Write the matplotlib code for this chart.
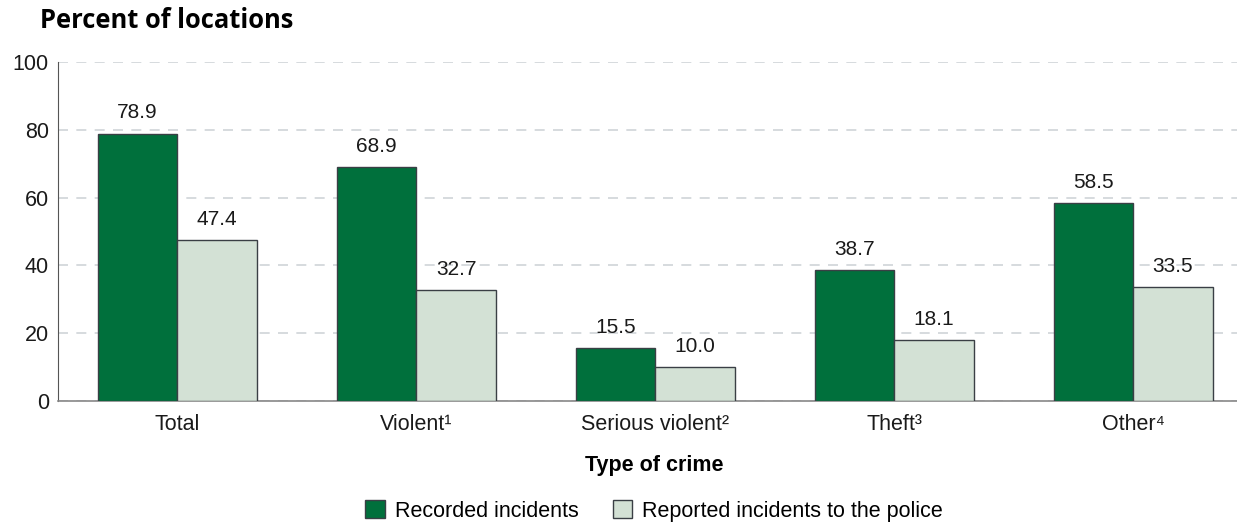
import matplotlib
matplotlib.use("Agg")
import matplotlib.pyplot as plt
import numpy as np

categories = ["Total", "Violent\u00b9", "Serious violent\u00b2", "Theft\u00b3", "Other\u2074"]
recorded = [78.9, 68.9, 15.5, 38.7, 58.5]
reported = [47.4, 32.7, 10.0, 18.1, 33.5]
series_names = ["Recorded incidents", "Reported incidents to the police"]
yticks = [0, 20, 40, 60, 80, 100]

plt.rcParams['font.family'] = ['Liberation Sans', 'DejaVu Sans']

dark = "#00703C"
light = "#D3E1D5"
edge = "#3a3f45"
fs = 15.5

fig = plt.figure(figsize=(12.37, 5.26), dpi=100)
ax = fig.add_axes([58/1237, 1-401/526, 1-58/1237, (401-62)/526])

x = np.arange(len(categories))
w = 0.333
b1 = ax.bar(x - w/2, recorded, w, color=dark, edgecolor=edge, linewidth=1.0, label=series_names[0], zorder=3)
b2 = ax.bar(x + w/2, reported, w, color=light, edgecolor=edge, linewidth=1.0, label=series_names[1], zorder=3)

for bars, vals in ((b1, recorded), (b2, reported)):
    for r, v in zip(bars, vals):
        ax.annotate(f"{v:.1f}", (r.get_x() + r.get_width()/2, v), xytext=(0, 8),
                    textcoords="offset points", ha="center", va="bottom", fontsize=15, color="#1a1a1a")

ax.set_xlim(-0.5, 4.435)
ax.set_ylim(0, 100)
ax.set_yticks(yticks)
ax.set_yticklabels([str(t) for t in yticks], fontsize=fs)
ax.set_xticks(x)
ax.set_xticklabels(categories, fontsize=fs)
ax.tick_params(axis='both', length=0, colors="#1a1a1a")
ax.tick_params(axis='x', pad=9)
ax.tick_params(axis='y', pad=6.5)
ax.yaxis.grid(True, linestyle=(0, (6, 5)), color="#d0d4d8", linewidth=1.2, zorder=0)
ax.set_axisbelow(True)
for s in ("top", "right"):
    ax.spines[s].set_visible(False)
ax.spines["left"].set_color("#555555")
ax.spines["bottom"].set_color("#888888")
ax.spines["bottom"].set_linewidth(1.2)

fig.text(40/1237, 1-20/526, "Percent of locations", fontsize=18.4, fontweight="bold",
         family=["Open Sans", "DejaVu Sans"], ha="left", va="center")
fig.text(654/1237, 1-466/526, "Type of crime", fontsize=fs, fontweight="bold", ha="center", va="center")

fig.legend(handles=[b1, b2], labels=series_names, loc="center", bbox_to_anchor=(654/1237, 1-511/526),
           ncol=2, frameon=False, fontsize=fs, handlelength=0.9, handleheight=0.9,
           handletextpad=0.45, columnspacing=1.6)

fig.savefig("out.png", dpi=100)
